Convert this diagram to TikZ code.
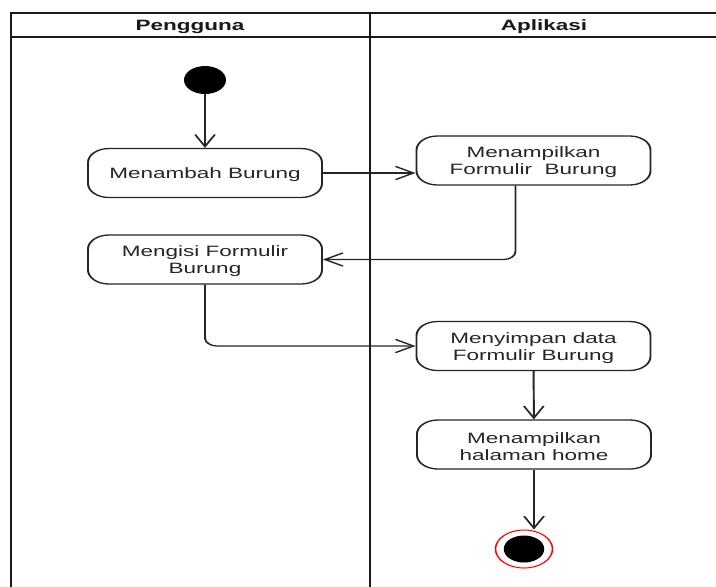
\documentclass[tikz,border=0pt]{standalone}
\usepackage{fontspec}
\setmainfont{Liberation Sans}
\usetikzlibrary{arrows.meta}
\begin{document}
\begin{tikzpicture}[x=0.5pt,y=-0.5pt,
  lane/.style={draw=black!90, line width=0.9pt},
  lanetitle/.style={font=\fontsize{7.5pt}{8.4pt}\selectfont\bfseries, text=black!90,
    inner sep=0pt, yshift=-1pt},
  caption/.style={font=\fontsize{7.5pt}{8.4pt}\selectfont, text=black!85,
    align=center, inner sep=0pt, yshift=-1pt},
  action/.style={draw=black!85, line width=0.65pt, rounded corners=7pt, fill=white,
    minimum width=78pt, minimum height=24.5pt, inner sep=0pt},
  flow/.style={draw=black!85, line width=0.65pt, rounded corners=4pt,
    -{Straight Barb[length=6pt,width=6.6pt]}},
  initial/.style={circle, fill=black, minimum size=14pt, inner sep=0pt},
  finalring/.style={circle, draw=red, line width=0.5pt, fill=white, minimum size=19pt, inner sep=0pt},
  finalcore/.style={circle, fill=black, minimum size=13.5pt, inner sep=0pt}
]
\useasboundingbox (0,0) rectangle (716,586);
\fill[white] (0,0) rectangle (716,586);
\clip (0,0) rectangle (716,586);
\begin{scope}[transform canvas={xscale=1.5}, x=0.333333pt]
  % swimlane frame
  \draw[lane] (11,13) rectangle (720,600);
  \draw[lane] (11,37) -- (720,37);
  \draw[lane] (370,13) -- (370,600);
  \node[lanetitle] (laneA) at (190,25) {Pengguna};
  \node[lanetitle] (laneB) at (544,25) {Aplikasi};

  % activities
  \node[initial] (start) at (205,80) {};
  \node[action, label={[caption]center:Menambah Burung}] (tambah) at (205,173) {};
  \node[action, label={[caption]center:Mengisi Formulir\\Burung}] (isi) at (205,259.5) {};
  \node[action, label={[caption]center:Menampilkan\\Formulir\ \ Burung}] (tampilform) at (533.5,160.5) {};
  \node[action, label={[caption]center:Menyimpan data\\Formulir Burung}] (simpan) at (533.5,346) {};
  \node[action, label={[caption]center:Menampilkan\\halaman home}] (home) at (534,444.5) {};
  \node[finalring] (end) at (524,549) {};
  \node[finalcore] (endcore) at (end.center) {};

  % control flow
  \draw[flow] (start) -- (tambah);
  \draw[flow] (tambah.east) -- (tambah.east -| tampilform.west);
  \draw[flow] ([xshift=-6pt]tampilform.south) |- (isi.east);
  \draw[flow] (isi.south) |- (simpan.west);
  \draw[flow] (simpan) -- (home);
  \draw[flow] (home.south) -- (home.south |- end.north);
\end{scope}
\end{tikzpicture}
\end{document}
